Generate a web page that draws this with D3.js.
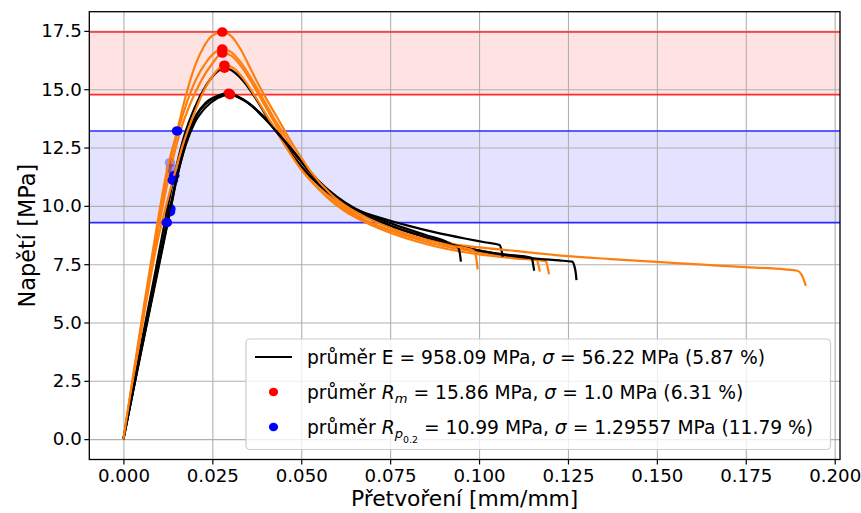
<!DOCTYPE html>
<html>
<head>
<meta charset="utf-8">
<script src="https://cdn.jsdelivr.net/npm/d3@7"></script>
<style>
  body { margin: 0; background: #fff; }
  text { font-family: "DejaVu Sans", sans-serif; fill: #000; }
</style>
</head>
<body>
<svg id="chart" width="861" height="513"></svg>
<script>
/* Stress-strain curves of 8 specimens with Rm and Rp0.2 markers. */

// strain [mm/mm], stress [MPa]
const curveB1 = [[0,0],[0.003,2.45],[0.006,4.85],[0.009,7.2],[0.012,9.6],[0.0143,11.3],[0.017,12.95],[0.020,14.2],[0.023,15.1],[0.026,15.7],[0.0284,15.9],[0.031,15.75],[0.034,15.3],[0.037,14.65],[0.040,13.9],[0.043,13.2],[0.046,12.5],[0.050,11.7],[0.055,10.9],[0.060,10.3],[0.066,9.8],[0.072,9.5],[0.080,9.15],[0.088,8.85],[0.096,8.6],[0.102,8.43],[0.1058,8.32],[0.1063,8.1],[0.1067,7.82]];
const curveB2 = [[0,0],[0.003,2.3],[0.006,4.55],[0.009,6.8],[0.0132,9.87],[0.0155,11.6],[0.018,13.0],[0.0205,13.9],[0.023,14.4],[0.0265,14.72],[0.0296,14.82],[0.033,14.6],[0.0357,14.35],[0.0385,13.95],[0.0405,13.65],[0.0428,13.23],[0.0452,12.8],[0.048,12.3],[0.052,11.55],[0.056,10.9],[0.060,10.4],[0.065,9.9],[0.071,9.5],[0.078,9.1],[0.085,8.75],[0.091,8.45],[0.0942,8.2],[0.0946,7.95],[0.0949,7.61]];
const curveB3 = [[0,0],[0.003,2.25],[0.006,4.5],[0.009,6.7],[0.0131,9.75],[0.0155,11.5],[0.018,12.9],[0.0205,13.85],[0.023,14.35],[0.0265,14.7],[0.0298,14.8],[0.033,14.62],[0.036,14.3],[0.039,13.9],[0.041,13.55],[0.0435,13.1],[0.046,12.65],[0.049,12.1],[0.053,11.35],[0.057,10.7],[0.062,10.1],[0.068,9.6],[0.075,9.15],[0.083,8.75],[0.091,8.4],[0.099,8.12],[0.107,7.92],[0.1148,7.77],[0.1152,7.5],[0.1155,7.22]];
const curveB4 = [[0,0],[0.003,2.3],[0.006,4.6],[0.009,6.85],[0.0122,9.28],[0.015,11.2],[0.0175,12.6],[0.020,13.55],[0.023,14.2],[0.0265,14.62],[0.030,14.77],[0.033,14.6],[0.036,14.3],[0.039,13.85],[0.0415,13.45],[0.044,13.0],[0.047,12.45],[0.050,11.9],[0.054,11.2],[0.058,10.6],[0.063,10.05],[0.069,9.55],[0.076,9.1],[0.084,8.7],[0.092,8.35],[0.100,8.08],[0.108,7.88],[0.116,7.74],[0.1225,7.66],[0.1262,7.61],[0.1268,7.42],[0.1272,7.12],[0.1274,6.82]];
const curveO1 = [[0,0],[0.003,3.0],[0.006,5.95],[0.009,8.75],[0.012,11.35],[0.0151,13.21],[0.0175,14.7],[0.020,15.95],[0.0225,16.8],[0.025,17.3],[0.0278,17.45],[0.0305,17.25],[0.033,16.7],[0.0355,15.95],[0.038,15.2],[0.0405,14.5],[0.043,13.85],[0.046,13.05],[0.049,12.3],[0.053,11.4],[0.058,10.55],[0.063,9.95],[0.069,9.45],[0.076,9.0],[0.084,8.6],[0.092,8.3],[0.0985,8.08],[0.0991,7.85],[0.0994,7.55],[0.0996,7.28]];
const curveO2 = [[0,0],[0.003,2.9],[0.006,5.8],[0.009,8.55],[0.0131,11.85],[0.0155,13.3],[0.018,14.5],[0.0205,15.45],[0.023,16.1],[0.0255,16.55],[0.0278,16.72],[0.0302,16.6],[0.033,16.15],[0.036,15.45],[0.039,14.65],[0.042,13.85],[0.045,13.1],[0.048,12.35],[0.052,11.45],[0.057,10.55],[0.062,9.95],[0.068,9.4],[0.075,8.95],[0.083,8.55],[0.091,8.25],[0.100,8.0],[0.108,7.83],[0.1162,7.7],[0.1167,7.45],[0.1171,7.18]];
const curveO3 = [[0,0],[0.003,2.85],[0.006,5.65],[0.009,8.35],[0.0133,11.6],[0.016,13.2],[0.019,14.45],[0.022,15.4],[0.025,16.1],[0.0278,16.55],[0.0302,16.45],[0.033,16.0],[0.036,15.3],[0.039,14.5],[0.042,13.7],[0.045,12.9],[0.048,12.15],[0.052,11.25],[0.057,10.4],[0.062,9.8],[0.068,9.3],[0.075,8.85],[0.083,8.45],[0.091,8.15],[0.100,7.92],[0.110,7.75],[0.1188,7.63],[0.1193,7.35],[0.1197,7.07]];
const curveO4 = [[0,0],[0.003,2.8],[0.006,5.5],[0.009,8.05],[0.0139,11.1],[0.017,12.75],[0.020,14.0],[0.023,15.05],[0.026,15.75],[0.0284,16.03],[0.031,15.9],[0.034,15.4],[0.037,14.7],[0.040,13.95],[0.043,13.2],[0.046,12.45],[0.050,11.55],[0.055,10.7],[0.060,10.05],[0.066,9.5],[0.073,9.05],[0.081,8.7],[0.090,8.42],[0.100,8.22],[0.110,8.07],[0.123,7.87],[0.137,7.72],[0.150,7.6],[0.163,7.48],[0.175,7.37],[0.186,7.28],[0.1895,7.22],[0.1907,7.05],[0.1914,6.8],[0.1919,6.57]];

const specimens = ["B1", "B2", "B3", "B4", "O1", "O2", "O3", "O4"];
const curves = [curveB1, curveB2, curveB3, curveB4, curveO1, curveO2, curveO3, curveO4];

// Rm (peak) and Rp0.2 points, same order as specimens
const rmStrain = [0.0284, 0.0296, 0.0298, 0.0300, 0.0278, 0.0278, 0.0278, 0.0284];
const rmStress = [15.90, 14.82, 14.80, 14.77, 17.45, 16.72, 16.55, 16.03];
const rpStrain = [0.0143, 0.0132, 0.0131, 0.0122, 0.0151, 0.0131, 0.0133, 0.0139];
const rpStress = [11.30, 9.87, 9.75, 9.28, 13.21, 11.85, 11.60, 11.10];

const xTicks = [0, 0.025, 0.05, 0.075, 0.1, 0.125, 0.15, 0.175, 0.2];
const yTicks = [0, 2.5, 5, 7.5, 10, 12.5, 15, 17.5];

const legendLabels = [
  [["průměr E = 958.09 MPa, "], ["σ", "i"], [" = 56.22 MPa (5.87 %)"]],
  [["průměr "], ["R", "i"], ["m", "sub"], [" = 15.86 MPa, "], ["σ", "i"], [" = 1.0 MPa (6.31 %)"]],
  [["průměr "], ["R", "i"], ["p", "sub"], ["0.2", "subsub"], [" = 10.99 MPa, "], ["σ", "i"], [" = 1.29557 MPa (11.79 %)"]]
];

const drawOrder = ["O2", "O3", "B2", "B3", "B1", "O4", "B4", "O1"];
const pale = ["O2", "O3"];   // Rp points that show up washed out

const svg = d3.select("#chart");
const plotLeft = 89.3, plotRight = 840, plotTop = 11.7, plotBottom = 459.5;

// matplotlib-like 5% margins
const xMax = d3.max(curves, c => d3.max(c, d => d[0]));
const yMax = d3.max(rmStress);
const xPad = xMax * 0.05, yPad = yMax * 0.05;
const x = d3.scaleLinear().domain([-xPad, xMax + xPad]).range([plotLeft, plotRight]);
const y = d3.scaleLinear().domain([-yPad, yMax + yPad]).range([plotBottom, plotTop]);

// bands: min..max of Rm and Rp0.2
const rmExt = d3.extent(rmStress), rpExt = d3.extent(rpStress);
svg.append("rect")
  .attr("x", plotLeft).attr("width", plotRight - plotLeft)
  .attr("y", y(rmExt[1])).attr("height", y(rmExt[0]) - y(rmExt[1]))
  .style("fill", "#ff0000").style("fill-opacity", 0.11);
svg.append("rect")
  .attr("x", plotLeft).attr("width", plotRight - plotLeft)
  .attr("y", y(rpExt[1])).attr("height", y(rpExt[0]) - y(rpExt[1]))
  .style("fill", "#0000ff").style("fill-opacity", 0.11);

// grid
svg.append("g")
  .attr("transform", "translate(0," + plotBottom + ")")
  .call(d3.axisBottom(x).tickValues(xTicks).tickSize(-(plotBottom - plotTop)).tickFormat(""))
  .call(g => g.select(".domain").remove())
  .selectAll("line").style("stroke", "#b0b0b0").style("stroke-width", 1.1);
svg.append("g")
  .attr("transform", "translate(" + plotLeft + ",0)")
  .call(d3.axisLeft(y).tickValues(yTicks).tickSize(-(plotRight - plotLeft)).tickFormat(""))
  .call(g => g.select(".domain").remove())
  .selectAll("line").style("stroke", "#b0b0b0").style("stroke-width", 1.1);

// band edges
[[rmExt, "#ff2a2a"], [rpExt, "#2a2aff"]].forEach(function (b) {
  b[0].forEach(function (v) {
    svg.append("line")
      .attr("x1", plotLeft).attr("x2", plotRight)
      .attr("y1", y(v)).attr("y2", y(v))
      .style("stroke", b[1]).style("stroke-width", 1.6);
  });
});

const line = d3.line()
  .x(d => x(d[0]))
  .y(d => y(d[1]))
  .curve(d3.curveMonotoneX);

const plot = svg.append("g");
drawOrder.forEach(function (name) {
  const i = specimens.indexOf(name);
  plot.append("path")
    .attr("d", line(curves[i]))
    .style("fill", "none")
    .style("stroke", name[0] === "B" ? "#000000" : "#ff7f0e")
    .style("stroke-width", 2.2)
    .style("stroke-linejoin", "round");
  plot.append("ellipse")
    .attr("cx", x(rmStrain[i])).attr("cy", y(rmStress[i])).attr("rx", 5.3).attr("ry", 4.8)
    .style("fill", "#ff0000");
  plot.append("ellipse")
    .attr("cx", x(rpStrain[i])).attr("cy", y(rpStress[i])).attr("rx", 5.3).attr("ry", 4.8)
    .style("fill", "#0000ff")
    .style("fill-opacity", pale.includes(name) ? 0.35 : 1);
});

// spines
svg.append("rect")
  .attr("x", plotLeft).attr("y", plotTop)
  .attr("width", plotRight - plotLeft).attr("height", plotBottom - plotTop)
  .style("fill", "none").style("stroke", "#000").style("stroke-width", 1.3);

// axes ticks and labels
const xAxis = svg.append("g")
  .attr("transform", "translate(0," + plotBottom + ")")
  .call(d3.axisBottom(x).tickValues(xTicks).tickSize(5).tickPadding(4.5).tickFormat(d3.format(".3f")));
const yAxis = svg.append("g")
  .attr("transform", "translate(" + plotLeft + ",0)")
  .call(d3.axisLeft(y).tickValues(yTicks).tickSize(5).tickPadding(2.5).tickFormat(d3.format(".1f")));
[xAxis, yAxis].forEach(function (a) {
  a.select(".domain").remove();
  a.selectAll("line").style("stroke", "#000").style("stroke-width", 1.2);
  a.selectAll("text").style("font-family", "DejaVu Sans").style("font-size", "18.2px").style("fill", "#000");
});

svg.append("text")
  .attr("x", (plotLeft + plotRight) / 2).attr("y", 505.5)
  .attr("text-anchor", "middle")
  .style("font-size", "21.8px")
  .text("Přetvoření [mm/mm]");
svg.append("text")
  .attr("transform", "translate(35," + (plotTop + plotBottom) / 2 + ") rotate(-90)")
  .attr("text-anchor", "middle")
  .style("font-size", "22.4px")
  .text("Napětí [MPa]");

// legend
const lg = svg.append("g");
lg.append("rect")
  .attr("x", 246).attr("y", 339).attr("width", 584.5).attr("height", 110.5)
  .attr("rx", 4)
  .style("fill", "#fff").style("fill-opacity", 0.8)
  .style("stroke", "#cccccc").style("stroke-width", 1.2);

const rowY = [357, 392, 427];
lg.append("line")
  .attr("x1", 255).attr("x2", 292).attr("y1", rowY[0]).attr("y2", rowY[0])
  .style("stroke", "#000").style("stroke-width", 2.2);
lg.append("ellipse").attr("cx", 273.5).attr("cy", rowY[1]).attr("rx", 4.6).attr("ry", 4.2).style("fill", "#ff0000");
lg.append("ellipse").attr("cx", 273.5).attr("cy", rowY[2]).attr("rx", 4.6).attr("ry", 4.2).style("fill", "#0000ff");

legendLabels.forEach(function (segs, r) {
  const t = lg.append("text")
    .attr("x", 307).attr("y", rowY[r] + 7)
    .style("font-size", "18.7px");
  let shift = 0;
  segs.forEach(function (s) {
    const sp = t.append("tspan").text(s[0]);
    let want = 0;
    if (s[1] === "i") sp.style("font-style", "italic");
    if (s[1] === "sub") { sp.style("font-style", "italic").style("font-size", "13.1px"); want = 4; }
    if (s[1] === "subsub") { sp.style("font-size", "9.4px"); want = 8.5; }
    if (want !== shift) { sp.attr("dy", want - shift); shift = want; }
  });
});
</script>
</body>
</html>
